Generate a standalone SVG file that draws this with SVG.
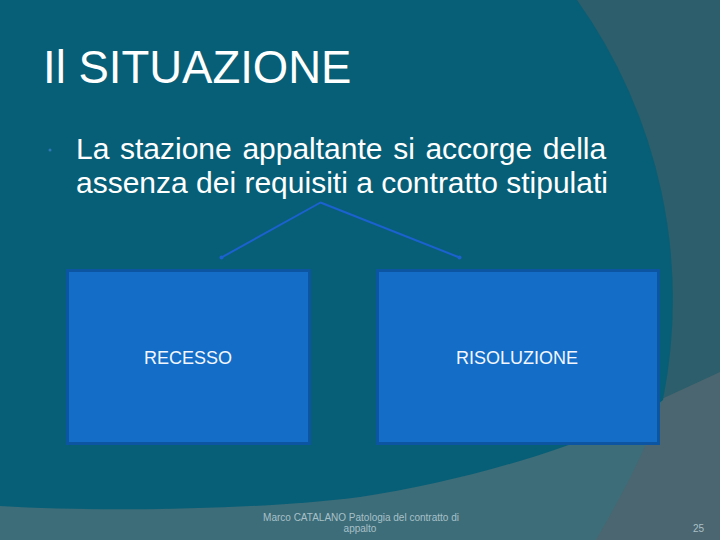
<svg xmlns="http://www.w3.org/2000/svg" width="720" height="540" viewBox="0 0 720 540">
  <defs>
    <style>
      .txt { font-family: "Liberation Sans", Arial, sans-serif; fill: #ffffff; }
      .box { fill: #146dc7; stroke: #0b55a3; stroke-width: 3; }
      .lbl { font-family: "Liberation Sans", Arial, sans-serif; font-size: 18px; fill: #f2f6ff; text-anchor: middle; }
      .foot { font-family: "Liberation Sans", Arial, sans-serif; font-size: 10px; fill: #a9c0c8; }
      .conn { stroke: #1b62d0; stroke-width: 2; fill: none; stroke-linecap: round; stroke-linejoin: round; }
      .end { fill: #1b62d0; }
    </style>
  </defs>

  <g id="background">
    <rect x="0" y="0" width="720" height="540" fill="#4b6670"/>
    <path d="M0,0 H720 V372 Q690,386 655,402 L600,430 L0,430 Z" fill="#2c5e6b"/>
    <path d="M0,440 L664,394 C652,440 622,495 596,540 L0,540 Z" fill="#3c6d79"/>
    <path d="M0,0 H577 A516,516 0 0,1 663,400 C630,430 480,480 360,497 C260,510 100,512 0,506 Z" fill="#075f77"/>
  </g>

  <g id="title">
    <text class="txt" x="43" y="83" font-size="45.5">Il SITUAZIONE</text>
  </g>

  <g id="bullet">
    <circle cx="50" cy="150" r="1.5" fill="#2f78b8"/>
    <text class="txt" font-size="30">
      <tspan x="76" y="159" word-spacing="2.3">La stazione appaltante si accorge della</tspan>
      <tspan x="76" y="193">assenza dei requisiti a contratto stipulati</tspan>
    </text>
  </g>

  <g id="connectors">
    <polyline class="conn" points="221.5,257.5 320.5,202.5 459.5,257.5"/>
    <circle class="end" cx="221.5" cy="257.5" r="2"/>
    <circle class="end" cx="459.5" cy="257.5" r="2"/>
  </g>

  <g id="recesso">
    <rect class="box" x="67.5" y="270.5" width="242" height="173"/>
    <text class="lbl" x="188" y="364">RECESSO</text>
  </g>

  <g id="risoluzione">
    <rect class="box" x="377.5" y="270.5" width="281" height="173"/>
    <text class="lbl" x="517" y="364">RISOLUZIONE</text>
  </g>

  <g id="footer">
    <text class="foot" x="361" y="521" text-anchor="middle">Marco CATALANO Patologia del contratto di</text>
    <text class="foot" x="360" y="532" text-anchor="middle">appalto</text>
  </g>

  <g id="page-number">
    <text class="foot" x="704" y="532" text-anchor="end" font-size="11">25</text>
  </g>
</svg>
